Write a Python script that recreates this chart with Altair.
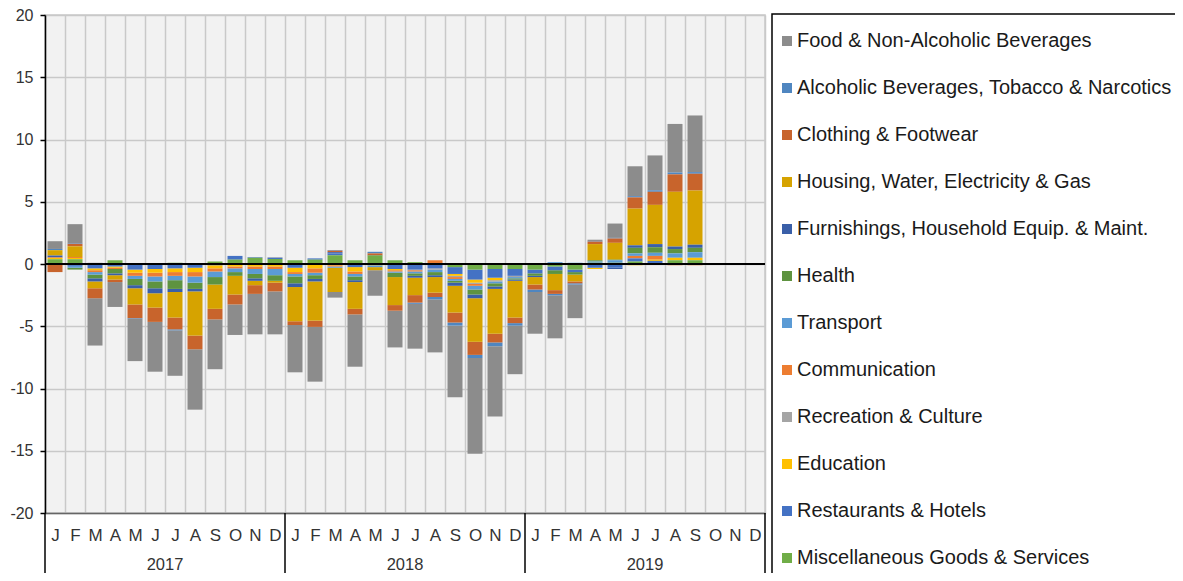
import altair as alt
import pandas as pd

month_letters = ["J", "F", "M", "A", "M", "J", "J", "A", "S", "O", "N", "D"]
years = ["2017", "2018", "2019"]
keys = [f"{y}-{m:02d}" for y in years for m in range(1, 13)]

categories = [
    "Food & Non-Alcoholic Beverages",
    "Alcoholic Beverages, Tobacco & Narcotics",
    "Clothing & Footwear",
    "Housing, Water, Electricity & Gas",
    "Furnishings, Household Equip. & Maint.",
    "Health",
    "Transport",
    "Communication",
    "Recreation & Culture",
    "Education",
    "Restaurants & Hotels",
    "Miscellaneous Goods & Services",
]
colors = ["#8c8c8c", "#4f86c0", "#c8642c", "#d6a300", "#3a5fa8", "#5e9340",
          "#5b9bd5", "#ed7d31", "#a5a5a5", "#ffc000", "#4472c4", "#70ad47"]

# Jan 2017 .. Sep 2019 (33 months)
food = [0.62, 1.53, -3.8, -2.0, -3.4, -4.0, -3.65, -4.85, -4.0, -2.45, -3.25, -3.45,
        -3.8, -4.4, -0.45, -4.2, -2.05, -2.95, -3.6, -4.25, -5.75, -7.7, -5.65, -3.9,
        -3.35, -3.45, -2.7, 0.1, 1.15, 2.4, 2.8, 3.9, 4.55]
alcohol = [0.1, 0.05, 0.0, 0.0, -0.05, 0.0, -0.08, 0.0, 0.0, 0.0, 0.0, 0.0,
           0.0, 0.0, 0.05, 0.0, 0.13, 0.0, -0.1, -0.2, -0.25, -0.25, -0.3, -0.2,
           -0.2, -0.12, -0.1, 0.05, 0.05, 0.1, 0.12, 0.15, 0.13]
clothing = [-0.65, 0.2, -0.8, -0.2, -1.1, -1.15, -0.95, -1.1, -0.85, -0.8, -0.7, -0.7,
            -0.3, -0.5, 0.12, -0.45, 0.15, -0.45, -0.6, -0.35, -0.8, -1.05, -0.7, -0.45,
            -0.4, -0.3, -0.15, 0.2, 0.35, 0.9, 1.05, 1.4, 1.35]
housing = [0.43, 0.86, -0.55, -0.35, -1.3, -1.15, -2.05, -3.55, -1.95, -1.5, -0.35, -0.15,
           -2.75, -3.15, -1.95, -2.15, -0.25, -2.25, -1.4, -1.25, -2.15, -3.5, -3.6, -2.95,
           -0.6, -1.3, -0.55, 1.3, 1.35, 2.95, 3.15, 4.4, 4.35]
furnishings = [0.15, 0.0, -0.25, -0.15, -0.25, -0.4, -0.25, -0.2, 0.0, 0.0, -0.2, 0.0,
               -0.3, -0.2, 0.1, -0.15, 0.0, 0.0, -0.15, -0.15, -0.25, -0.3, -0.2, -0.1,
               -0.1, 0.0, 0.0, 0.0, -0.1, 0.2, 0.25, 0.2, 0.25]
health = [0.0, -0.15, -0.3, -0.35, -0.5, -0.55, -0.7, -0.5, -0.6, -0.3, -0.35, -0.45,
          -0.55, -0.3, 0.0, -0.3, 0.05, -0.35, -0.2, -0.25, -0.15, -0.4, -0.25, -0.1,
          -0.2, -0.3, -0.2, 0.1, 0.05, 0.45, 0.45, 0.35, 0.35]
transport = [0.0, -0.15, -0.2, 0.0, -0.25, -0.4, -0.35, -0.5, -0.45, -0.3, -0.4, -0.5,
             -0.2, -0.2, -0.1, -0.2, -0.15, -0.1, -0.15, -0.2, -0.15, -0.3, -0.15, -0.1,
             0.0, 0.15, 0.1, 0.1, 0.2, 0.2, 0.25, 0.35, 0.45]
communication = [0.05, 0.08, -0.15, -0.1, -0.25, -0.3, -0.3, -0.35, -0.25, -0.15, -0.2, -0.2,
                 -0.15, -0.35, -0.1, -0.2, 0.0, -0.1, -0.1, 0.25, -0.15, -0.15, 0.0, 0.0,
                 0.0, 0.0, 0.0, 0.0, 0.0, 0.2, 0.3, -0.1, -0.1]
recreation = [0.0, 0.0, 0.1, 0.0, 0.0, 0.0, 0.0, 0.0, 0.0, 0.0, 0.0, 0.05,
              0.0, 0.0, 0.0, 0.0, 0.0, 0.0, -0.05, -0.1, -0.1, -0.1, -0.1, -0.1,
              0.0, 0.0, 0.0, 0.0, 0.0, 0.0, 0.0, 0.0, 0.0]
education = [0.1, 0.1, -0.15, -0.1, -0.25, -0.3, -0.3, -0.35, -0.25, -0.2, -0.2, -0.2,
             -0.35, -0.35, -0.1, -0.35, -0.1, -0.1, 0.0, 0.0, -0.15, -0.25, -0.2, 0.0,
             0.0, 0.0, 0.0, -0.1, 0.0, -0.1, 0.1, 0.2, 0.2]
restaurants = [0.0, -0.15, -0.35, -0.2, -0.45, -0.4, -0.35, -0.3, -0.1, 0.3, 0.05, 0.1,
               -0.3, 0.1, 0.15, -0.25, 0.0, -0.4, -0.45, -0.35, -0.55, -0.8, -0.7, -0.55,
               -0.3, -0.3, -0.2, -0.3, -0.3, 0.25, 0.25, 0.0, 0.0]
misc = [0.38, 0.38, 0.0, 0.3, 0.0, 0.05, 0.1, 0.0, 0.2, 0.35, 0.5, 0.4,
        0.3, 0.35, 0.7, 0.3, 0.65, 0.3, 0.15, 0.05, -0.25, -0.45, -0.4, -0.4,
        -0.45, -0.2, -0.45, 0.1, 0.1, 0.2, 0.0, 0.3, 0.3]

series = [food, alcohol, clothing, housing, furnishings, health, transport,
          communication, recreation, education, restaurants, misc]

rows = []
for ci, (cat, vals) in enumerate(zip(categories, series)):
    for mi, v in enumerate(vals):
        rows.append({"key": keys[mi], "category": cat, "value": v,
                     "rank": len(categories) - 1 - ci})
df = pd.DataFrame(rows)

NARROW = "Liberation Sans Narrow, Arial Narrow, Liberation Sans, sans-serif"
REG = "Liberation Sans, Arial, sans-serif"
GRID = "#c9c9c9"

label_expr = ('["J","F","M","A","M","J","J","A","S","O","N","D"]'
              '[toNumber(substring(datum.value, 5, 7)) - 1]')
x_axis = alt.Axis(title=None, labelExpr=label_expr, labelAngle=0, ticks=False,
                  grid=True, tickBand="extent", gridColor=GRID, gridWidth=1.5,
                  domainColor="#666666", domainWidth=1.5, labelFont=NARROW,
                  labelFontSize=17, labelColor="#333333", labelPadding=22,
                  labelBaseline="middle")
x_scale = alt.Scale(domain=keys, paddingInner=0, paddingOuter=0)
y_scale = alt.Scale(domain=[-20, 20], nice=False)
y_axis = alt.Axis(title=None, values=list(range(-20, 25, 5)), grid=True,
                  labelExpr="'' + datum.value",
                  gridColor=GRID, gridWidth=1.5, domainColor="black",
                  domainWidth=1.5, tickColor="black", tickSize=5, tickWidth=1.5,
                  labelFont=REG, labelFontSize=16, labelColor="#333333",
                  labelPadding=7)

bars = alt.Chart(df).mark_bar(width={"band": 0.75}).encode(
    x=alt.X("key:O", scale=x_scale, axis=x_axis),
    y=alt.Y("value:Q", stack="zero", scale=y_scale, axis=y_axis),
    color=alt.Color("category:N",
                    scale=alt.Scale(domain=categories, range=colors),
                    legend=alt.Legend(title=None, orient="none", legendX=723,
                                      legendY=7, symbolType="square",
                                      symbolSize=100, symbolStrokeWidth=0,
                                      labelFont=REG, labelFontSize=20,
                                      labelColor="#1a1a1a", rowPadding=27,
                                      labelLimit=600, padding=9, labelOffset=0)),
    order=alt.Order("rank:Q", sort="ascending"),
)

zero = alt.Chart(pd.DataFrame({"value": [0]})).mark_rule(
    color="black", strokeWidth=2).encode(
    y=alt.Y("value:Q", scale=y_scale, axis=y_axis),
    x=alt.value(0), x2=alt.value(720))

sep_df = pd.DataFrame({"key": ["2017-01", "2018-01", "2019-01"]})
seps = alt.Chart(sep_df).mark_rule(color="black", strokeWidth=1.5).encode(
    x=alt.X("key:O", scale=x_scale, axis=x_axis, bandPosition=0),
    y=alt.value(498), y2=alt.value(575))
end_sep = alt.Chart(pd.DataFrame({"key": ["2019-12"]})).mark_rule(
    color="black", strokeWidth=1.5).encode(
    x=alt.X("key:O", scale=x_scale, axis=x_axis, bandPosition=1),
    y=alt.value(498), y2=alt.value(575))

year_df = pd.DataFrame({"key": [f"{y}-07" for y in years], "year": years})
year_text = alt.Chart(year_df).mark_text(
    font=NARROW, fontSize=16.5, color="#333333", baseline="middle",
    align="center").encode(
    x=alt.X("key:O", scale=x_scale, axis=x_axis, bandPosition=0),
    y=alt.value(550), text="year:N")

box = alt.Chart(pd.DataFrame({"a": [1]})).mark_rect(
    fillOpacity=0, stroke="black", strokeWidth=1.5).encode(
    x=alt.value(727), x2=alt.value(1300), y=alt.value(-1), y2=alt.value(700))

chart = alt.layer(bars, zero, seps, end_sep, year_text, box).properties(
    width=720, height=498,
    autosize=alt.AutoSizeParams(type="none"),
    padding={"left": 37, "top": 7, "right": 410, "bottom": 60},
).configure_view(fill="#f2f2f2", stroke=GRID, strokeWidth=1.5)

chart.save("out.html", embed_options={"renderer": "svg", "actions": False})
